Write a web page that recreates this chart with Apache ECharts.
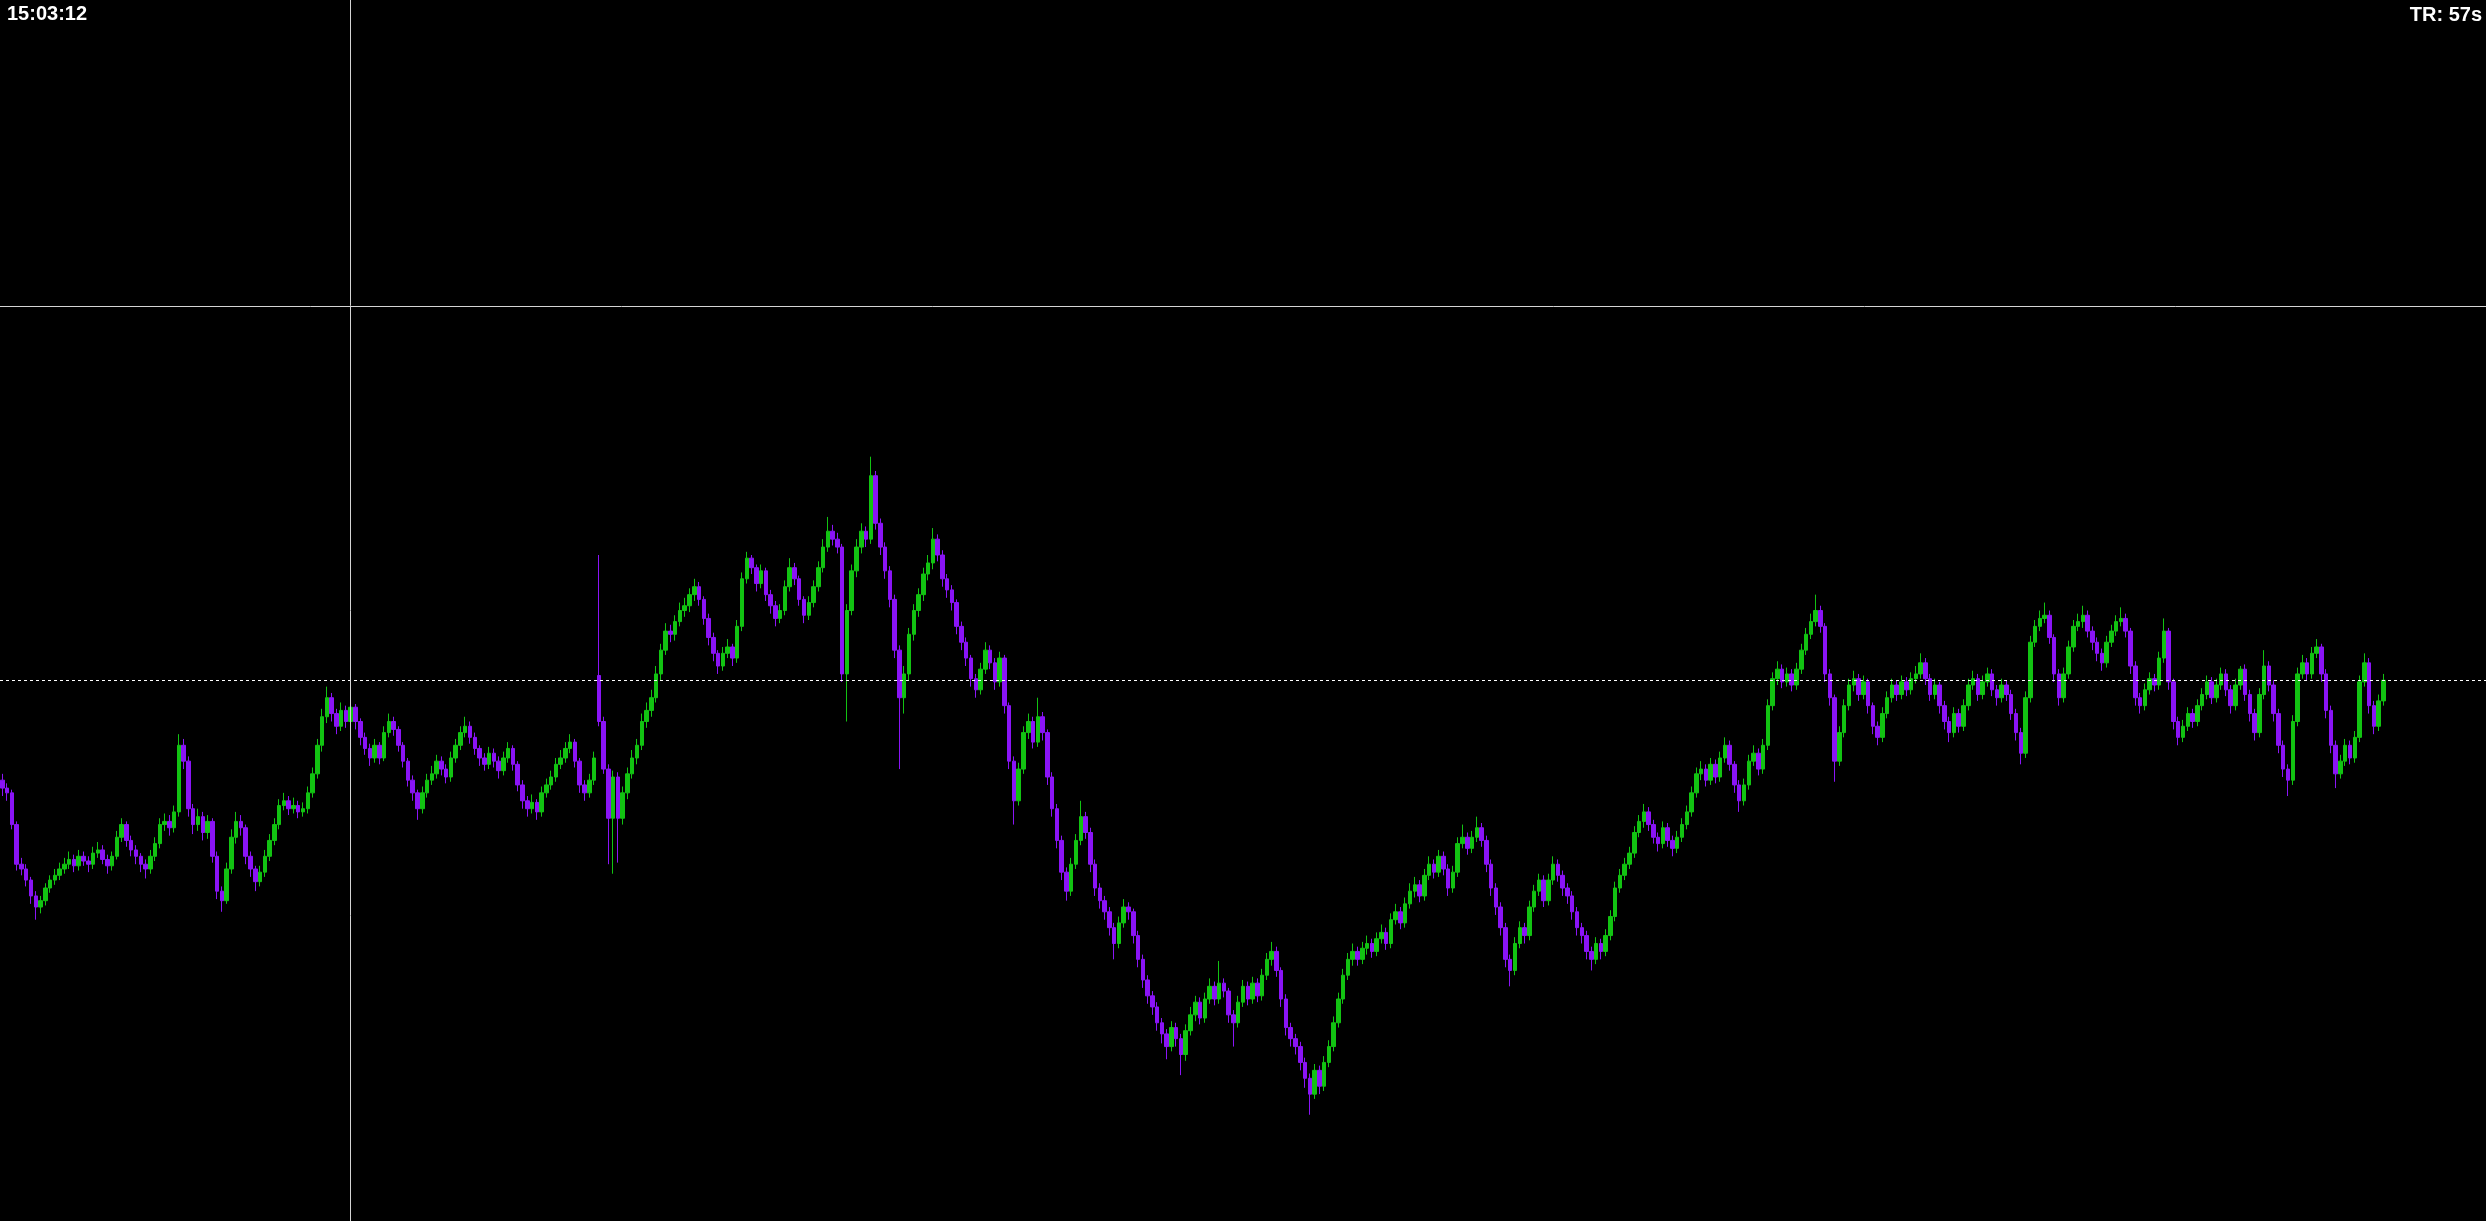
<!DOCTYPE html>
<html><head><meta charset="utf-8">
<script src="https://cdn.jsdelivr.net/npm/echarts@6/dist/echarts.min.js"></script>
<style>html,body{margin:0;padding:0;background:#000;overflow:hidden}#chart{width:2486px;height:1221px}</style>
</head><body><div id="chart"></div>
<script>
const clockText = '15:03:12';
const timerText = 'TR: 57s';
const currentPrice = 341;
const crossPrice = 577;
const crossBar = 73;
const shiftSlots = 21;

const open = [
278,273,270,250,225,222,215,205,198,202, 210,215,218,222,225,228,224,230,227,225,
232,234,228,224,230,242,250,240,234,230, 225,222,230,238,250,252,248,258,300,290,
260,250,255,245,252,230,208,202,222,242, 252,248,230,222,214,220,230,240,250,262,
265,260,262,258,260,270,282,300,318,330, 320,312,322,315,324,315,305,298,292,300,
292,308,315,310,300,290,278,270,260,270, 278,282,290,285,280,292,300,308,312,305,
298,292,288,295,290,284,292,298,288,275, 265,260,264,258,270,275,280,288,292,298,
302,290,275,270,278,344,315,285,254,280, 254,270,282,292,300,315,322,330,345,360,
372,370,378,385,388,395,400,392,380,368, 358,350,358,362,355,375,405,418,412,402,
410,395,388,380,385,400,412,405,392,382, 390,400,412,425,435,430,425,345,385,410,
425,435,430,470,440,425,410,392,360,330, 345,370,385,395,408,415,430,420,405,398,
390,375,365,355,342,335,348,360,352,340, 355,325,290,265,285,308,315,302,318,308,
280,260,240,220,208,225,240,255,245,225, 210,202,195,185,175,188,198,195,180,165,
152,142,135,125,118,110,122,115,105,120, 130,138,128,140,148,140,150,145,130,125,
138,148,140,150,142,155,165,170,158,140, 122,115,110,100,90,80,95,85,100,110,
125,140,155,165,170,165,172,175,170,178, 182,175,190,195,188,200,208,212,205,218,
225,220,230,222,210,220,238,242,235,242, 248,240,225,210,198,185,165,158,175,185,
180,198,208,215,202,215,225,218,210,205, 195,185,180,170,165,175,170,180,192,210,
218,225,232,245,252,258,250,242,238,248, 240,235,242,250,258,270,282,285,278,288,
280,292,300,288,275,265,275,290,295,285, 300,325,342,348,340,345,338,348,360,370,
378,385,375,345,330,290,308,325,338,342, 332,340,325,312,305,320,330,338,332,340,
335,342,345,352,342,332,338,325,315,308, 320,312,325,338,342,332,340,345,335,330,
338,332,320,308,295,330,365,375,380,382, 368,345,330,345,362,375,378,382,372,365,
358,352,365,372,378,380,372,350,330,325, 335,342,338,355,372,340,315,305,312,320,
315,325,332,340,330,338,345,335,325,338, 348,332,320,308,332,350,338,320,300,285,
278,315,345,352,345,358,362,345,322,300, 282,290,300,292,305,340,352,325,312,328
];
const high = [
282,276,272,252,229,225,217,208,205,213, 218,222,226,229,233,231,234,233,230,236,
239,237,231,233,246,254,252,243,237,232, 228,234,242,254,257,256,262,307,304,293,
263,260,258,256,254,233,211,226,247,258, 256,250,233,224,224,234,244,254,266,270,
268,267,265,264,274,286,304,323,337,333, 323,327,325,329,326,317,308,301,304,302,
312,320,318,312,302,292,281,272,274,282, 287,294,293,288,296,304,312,318,315,308,
300,295,299,298,293,296,302,300,290,278, 268,269,266,274,279,284,292,297,302,307,
304,292,278,282,296,420,318,288,284,283, 274,286,297,304,320,327,335,350,364,377,
376,382,390,393,399,405,403,394,383,371, 360,362,367,364,379,409,422,420,414,414,
412,398,391,389,404,418,415,407,394,394, 404,416,430,444,439,434,427,389,414,430,
440,438,482,473,443,428,413,395,363,350, 374,389,399,412,420,437,433,423,408,401,
392,378,368,357,345,352,365,363,355,359, 357,327,293,289,312,320,318,330,321,310,
283,263,243,223,229,244,265,258,248,228, 213,205,198,188,192,203,201,197,183,168,
155,145,138,128,121,126,125,118,124,135, 142,141,144,153,151,164,153,147,133,142,
152,151,154,153,159,169,176,173,160,143, 125,118,113,103,93,99,98,104,114,129,
144,159,169,175,173,176,180,178,182,187, 185,194,200,198,204,213,217,215,222,230,
228,234,233,225,224,242,250,245,246,255, 251,243,228,213,201,188,168,179,189,188,
202,212,219,218,219,230,228,221,213,208, 198,188,183,173,179,178,184,196,214,222,
229,236,249,256,263,261,253,245,252,251, 243,246,254,262,274,286,290,288,292,291,
296,305,303,290,278,279,294,300,298,304, 329,346,353,351,349,348,352,364,374,383,
395,388,377,348,332,312,329,342,347,345, 344,342,327,315,324,334,342,341,344,343,
346,350,358,355,345,342,340,328,318,324, 323,329,342,347,345,344,349,348,338,342,
341,335,323,311,334,369,379,385,390,385, 370,348,349,366,379,383,388,385,375,368,
361,369,376,382,387,383,374,353,333,339, 346,345,359,380,374,342,318,316,324,323,
329,336,344,343,342,349,348,338,342,350, 351,335,323,336,360,353,341,323,303,288,
319,349,357,355,362,367,364,348,325,303, 294,304,303,309,344,358,355,328,332,345
];
const low = [
268,265,247,221,218,211,200,190,194,199, 207,212,215,219,222,220,221,224,220,222,
229,225,219,221,228,239,236,230,225,220, 216,219,227,235,246,243,245,255,285,255,
244,246,240,241,226,203,195,200,219,238, 243,225,217,208,211,217,227,237,247,259,
256,257,254,255,257,267,279,296,314,315, 307,309,311,312,310,300,294,287,289,288,
290,305,306,296,286,274,265,253,257,267, 275,279,281,276,277,289,297,305,301,294,
287,284,285,286,279,281,289,284,271,260, 255,257,253,255,267,272,277,285,289,295,
286,270,265,267,275,312,282,225,219,226, 250,266,279,288,297,311,318,327,341,357,
365,366,375,381,384,391,388,376,363,353, 345,347,355,350,352,372,402,408,397,399,
391,383,375,377,382,397,401,388,377,379, 387,397,409,422,426,421,340,315,382,406,
421,425,427,436,420,405,387,355,285,320, 341,366,381,391,404,411,416,400,393,385,
370,360,350,337,330,332,345,348,335,337, 320,285,250,262,282,304,298,299,303,275,
255,235,215,202,205,222,237,241,220,205, 197,190,180,165,172,185,190,175,160,147,
137,130,120,112,102,107,110,92,101,117, 126,124,125,137,136,137,141,125,110,122,
135,136,137,138,139,152,161,154,135,117, 110,105,95,84,67,77,80,82,97,107,
122,137,152,161,161,162,168,166,167,175, 171,172,187,184,185,197,204,201,202,215,
216,217,218,205,207,217,235,231,232,239, 236,220,205,193,180,160,148,155,172,175,
177,195,205,198,199,212,214,205,200,190, 180,175,165,158,162,165,167,177,189,207,
215,222,229,242,248,246,238,233,235,236, 230,232,239,247,255,267,278,274,275,276,
277,289,284,270,258,262,272,287,281,282, 297,322,338,336,337,334,335,345,357,367,
375,371,340,325,277,287,305,322,334,328, 329,320,307,300,302,317,327,328,329,331,
332,339,342,338,328,329,320,310,302,305, 308,309,322,335,328,329,337,331,325,327,
328,316,303,288,292,327,362,372,377,364, 340,325,327,342,359,372,374,368,360,353,
347,349,362,369,375,368,345,325,320,322, 332,334,335,352,335,310,300,302,309,311,
312,322,329,326,327,335,331,320,322,335, 328,315,303,305,329,334,315,295,280,268,
275,312,342,341,342,355,340,317,295,273, 279,287,288,289,302,337,320,307,309,325
];
const close = [
273,270,250,225,222,215,205,198,202,210, 215,218,222,225,228,224,230,227,225,232,
234,228,224,230,242,250,240,234,230,225, 222,230,238,250,252,248,258,300,290,260,
250,255,245,252,230,208,202,222,242,252, 248,230,222,214,220,230,240,250,262,265,
260,262,258,260,270,282,300,318,330,320, 312,322,315,324,315,305,298,292,300,292,
308,315,310,300,290,278,270,260,270,278, 282,290,285,280,292,300,308,312,305,298,
292,288,295,290,284,292,298,288,275,265, 260,264,258,270,275,280,288,292,298,302,
290,275,270,278,292,315,285,254,280,254, 270,282,292,300,315,322,330,345,360,372,
370,378,385,388,395,400,392,380,368,358, 350,358,362,355,375,405,418,412,402,410,
395,388,380,385,400,412,405,392,382,390, 400,412,425,435,430,425,345,385,410,425,
435,430,470,440,425,410,392,360,330,345, 370,385,395,408,415,430,420,405,398,390,
375,365,355,342,335,348,360,352,340,355, 325,290,265,285,308,315,302,318,308,280,
260,240,220,208,225,240,255,245,225,210, 202,195,185,175,188,198,195,180,165,152,
142,135,125,118,110,122,115,105,120,130, 138,128,140,148,140,150,145,130,125,138,
148,140,150,142,155,165,170,158,140,122, 115,110,100,90,80,95,85,100,110,125,
140,155,165,170,165,172,175,170,178,182, 175,190,195,188,200,208,212,205,218,225,
220,230,222,210,220,238,242,235,242,248, 240,225,210,198,185,165,158,175,185,180,
198,208,215,202,215,225,218,210,205,195, 185,180,170,165,175,170,180,192,210,218,
225,232,245,252,258,250,242,238,248,240, 235,242,250,258,270,282,285,278,288,280,
292,300,288,275,265,275,290,295,285,300, 325,342,348,340,345,338,348,360,370,378,
385,375,345,330,290,308,325,338,342,332, 340,325,312,305,320,330,338,332,340,335,
342,345,352,342,332,338,325,315,308,320, 312,325,338,342,332,340,345,335,330,338,
332,320,308,295,330,365,375,380,382,368, 345,330,345,362,375,378,382,372,365,358,
352,365,372,378,380,372,350,330,325,335, 342,338,355,372,340,315,305,312,320,315,
325,332,340,330,338,345,335,325,338,348, 332,320,308,332,350,338,320,300,285,278,
315,345,352,345,358,362,345,322,300,282, 290,300,292,305,340,352,325,312,328,341
];

const UP = '#12c312';
const DOWN = '#8a14f6';

const categories = [];
for (let i = 0; i < open.length + shiftSlots; i++) categories.push(String(i));
const candles = open.map((o, i) => [o, close[i], low[i], high[i]]);

const chart = echarts.init(document.getElementById('chart'), null, {renderer: 'canvas'});
chart.setOption({
  animation: false,
  backgroundColor: '#000000',
  title: [
    {text: clockText, left: 7, top: 4, padding: 0,
     textStyle: {color: '#ffffff', fontSize: 20, fontWeight: 'bold', fontFamily: 'Liberation Sans'}},
    {text: timerText, right: 4, top: 5, padding: 0,
     textStyle: {color: '#ffffff', fontSize: 20, fontWeight: 'bold', fontFamily: 'Liberation Sans'}}
  ],
  grid: {left: 0, right: 0, top: 0, bottom: 0},
  xAxis: {type: 'category', data: categories, boundaryGap: true, show: false},
  yAxis: {type: 'value', min: 0, max: 770, show: false, splitLine: {show: false}},
  series: [{
    type: 'candlestick',
    data: candles,
    barWidth: 4,
    itemStyle: {color: UP, color0: DOWN, borderColor: UP, borderColor0: DOWN, borderWidth: 1},
    markLine: {
      silent: true,
      symbol: ['none', 'none'],
      label: {show: false},
      data: [
        {yAxis: currentPrice, lineStyle: {color: '#ffffff', width: 1, type: [3, 3]}},
        {yAxis: crossPrice, lineStyle: {color: '#d4d4d4', width: 1, type: 'solid'}},
        {xAxis: crossBar, lineStyle: {color: '#d4d4d4', width: 1, type: 'solid'}}
      ]
    }
  }]
});
</script>
</body></html>
